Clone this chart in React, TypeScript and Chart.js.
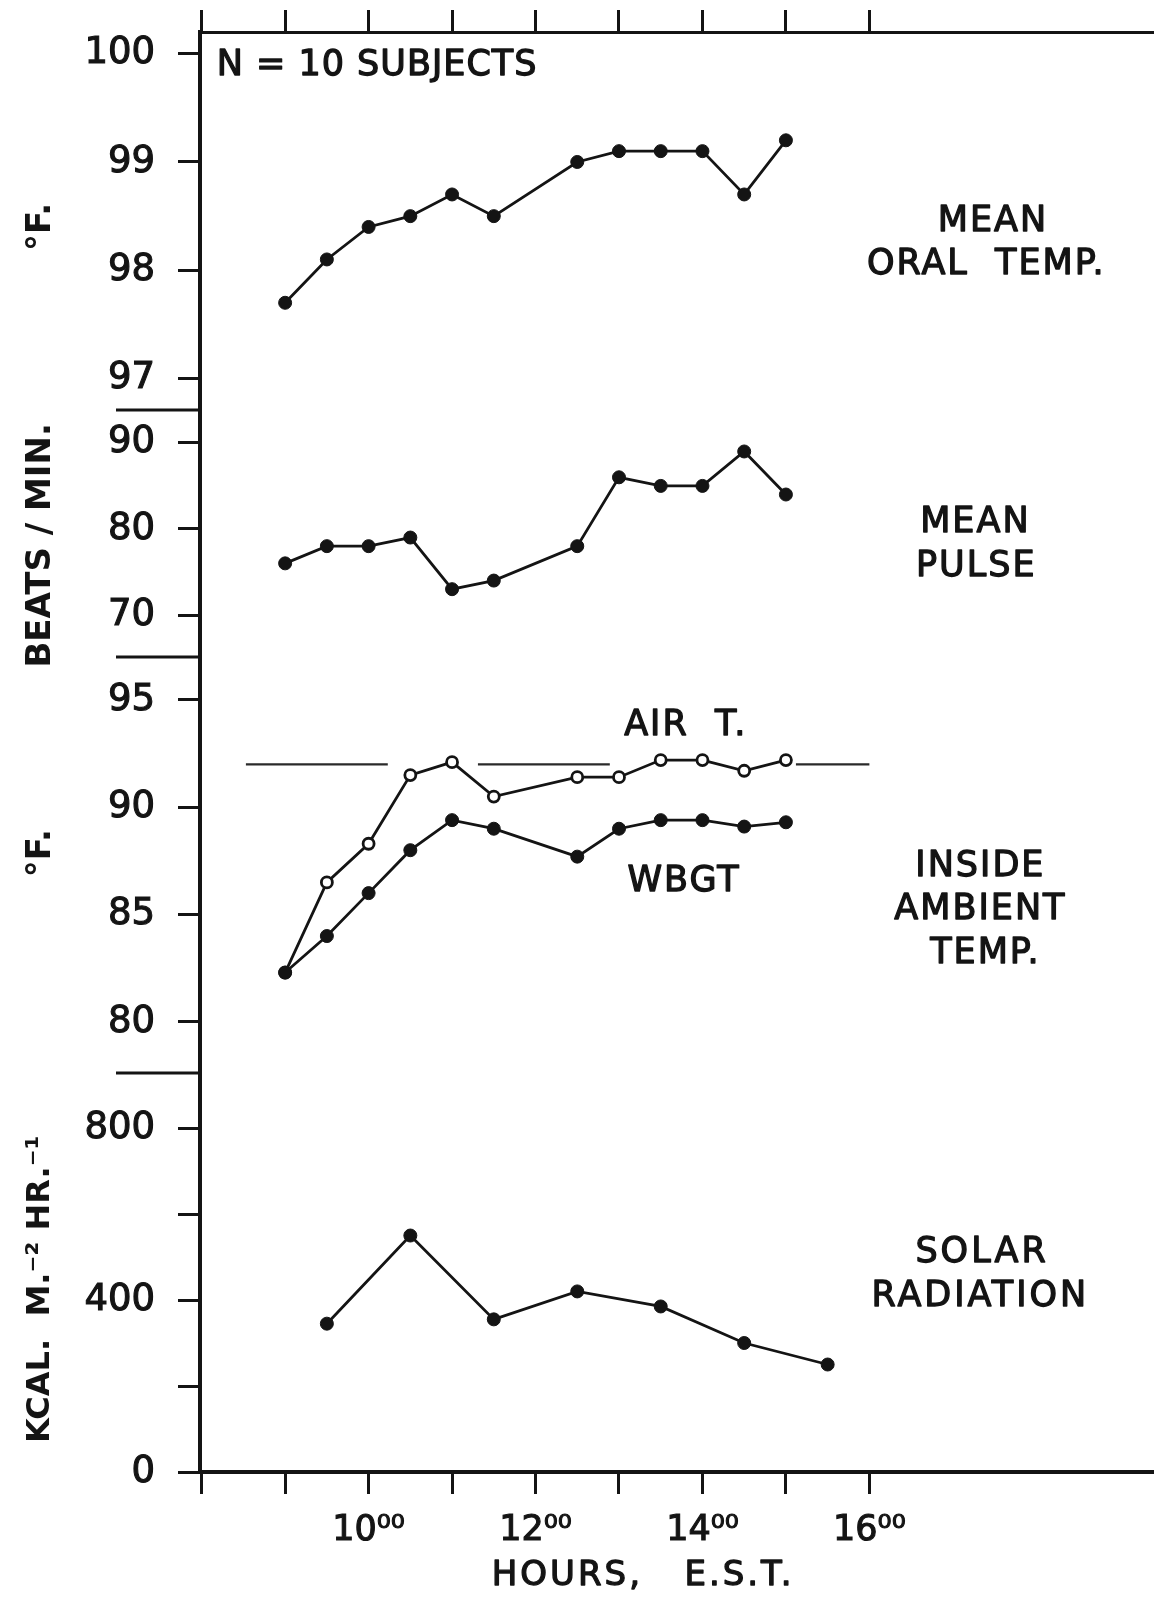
import { useEffect, useRef } from 'react';
import { Chart, registerables } from 'chart.js';

Chart.register(...registerables);

// Sampling times (decimal hours, E.S.T.)
const sampleHours = [9, 9.5, 10, 10.5, 11, 11.5, 12.5, 13, 13.5, 14, 14.5, 15];
const oralTemp = [97.7, 98.1, 98.4, 98.5, 98.7, 98.5, 99.0, 99.1, 99.1, 99.1, 98.7, 99.2];
const pulseRate = [76, 78, 78, 79, 73, 74, 78, 86, 85, 85, 89, 84];
const airTemp = [82.3, 86.5, 88.3, 91.5, 92.1, 90.5, 91.4, 91.4, 92.2, 92.2, 91.7, 92.2];
const wbgtTemp = [82.3, 84.0, 86.0, 88.0, 89.4, 89.0, 87.7, 89.0, 89.4, 89.4, 89.1, 89.3];

const solarHours = [9.5, 10.5, 11.5, 12.5, 13.5, 14.5, 15.5];
const solarRadiation = [345, 550, 355, 420, 385, 300, 250];

// Broken horizontal line at 92 °F: [start hour, end hour] of each piece
const refLineSegments = [
  [8.53, 10.23],
  [11.31, 12.89],
  [15.12, 16.0],
];
const refLineTemp = 92;

// Axis ranges and ticks
const hourRange = [7.98, 19.41];
const hourTicks = [8, 9, 10, 11, 12, 13, 14, 15, 16];
const labelledHours = [10, 12, 14, 16];
const oralRange = [96.71, 100.2];
const oralTicks = [97, 98, 99, 100];
const pulseRange = [65.12, 93.82];
const pulseTicks = [70, 80, 90];
const ambientRange = [77.62, 97.0];
const ambientTicks = [80, 85, 90, 95];
const solarRange = [0, 928];
const solarTicks = [0, 200, 400, 600, 800];
const solarLabelled = [0, 400, 800];

const FONT = "'DejaVu Sans', sans-serif";
const INK = '#141414';

type Note = { text: string; x: number; y: number; axis: string; align: CanvasTextAlign; spacing?: number };

// Panel captions, placed in data coordinates of their own panel
const panelNotes: Note[] = [
  { text: 'N = 10 SUBJECTS', x: 8.18, y: 99.89, axis: 'yOral', align: 'left', spacing: 1 },
  { text: 'MEAN', x: 17.48, y: 98.45, axis: 'yOral', align: 'center' },
  { text: 'ORAL  TEMP.', x: 17.4, y: 98.05, axis: 'yOral', align: 'center' },
  { text: 'MEAN', x: 17.27, y: 80.7, axis: 'yPulse', align: 'center' },
  { text: 'PULSE', x: 17.28, y: 75.58, axis: 'yPulse', align: 'center' },
  { text: 'AIR  T.', x: 13.8, y: 93.79, axis: 'yAmb', align: 'center' },
  { text: 'WBGT', x: 13.78, y: 86.52, axis: 'yAmb', align: 'center' },
  { text: 'INSIDE', x: 17.33, y: 87.22, axis: 'yAmb', align: 'center' },
  { text: 'AMBIENT', x: 17.33, y: 85.22, axis: 'yAmb', align: 'center' },
  { text: 'TEMP.', x: 17.39, y: 83.17, axis: 'yAmb', align: 'center' },
  { text: 'SOLAR', x: 17.35, y: 509, axis: 'ySolar', align: 'center', spacing: 3 },
  { text: 'RADIATION', x: 17.33, y: 407, axis: 'ySolar', align: 'center', spacing: 3 },
];

const xTitle = { text: 'HOURS,   E.S.T.', x: 13.29 };

const toPoints = (xs: number[], ys: number[]) => xs.map((x, i) => ({ x, y: ys[i] }));

const refLinePoints = refLineSegments.flatMap(([a, b]) => [
  { x: a, y: refLineTemp },
  { x: b, y: refLineTemp },
  { x: b, y: null as number | null },
]);

const drawText = (ctx: CanvasRenderingContext2D, text: string, x: number, y: number) => {
  ctx.fillText(text, x, y);
  ctx.strokeText(text, x, y);
};

const panelDecor = {
  id: 'panelDecor',
  afterDraw(chart: any) {
    const { ctx, scales } = chart;
    const xs = scales.x;
    ctx.save();
    // separators between the stacked panels
    ctx.strokeStyle = INK;
    ctx.lineWidth = 3;
    for (const id of ['yPulse', 'yAmb', 'ySolar']) {
      const s = scales[id];
      ctx.beginPath();
      ctx.moveTo(116, s.top);
      ctx.lineTo(s.right, s.top);
      ctx.stroke();
    }
    ctx.fillStyle = INK;
    ctx.lineWidth = 1.3;
    ctx.lineJoin = 'round';
    ctx.textBaseline = 'middle';
    ctx.font = `35px ${FONT}`;
    for (const n of panelNotes) {
      ctx.textAlign = n.align;
      ctx.letterSpacing = `${n.spacing ?? 2}px`;
      drawText(ctx, n.text, xs.getPixelForValue(n.x), scales[n.axis].getPixelForValue(n.y));
    }
    ctx.textAlign = 'center';
    ctx.letterSpacing = '3px';
    ctx.font = `34px ${FONT}`;
    drawText(ctx, xTitle.text, xs.getPixelForValue(xTitle.x), xs.top + 104);
    ctx.restore();
  },
};

const setTicks = (values: number[]) => (scale: any) => {
  scale.ticks = values.map((v) => ({ value: v }));
};

// fixed box size; no extra room reserved for overhanging tick labels
const fixBox = (size: { width?: number; height?: number }) => (s: any) => {
  if (size.width !== undefined) s.width = size.width;
  if (size.height !== undefined) s.height = size.height;
  s.paddingTop = 0;
  s.paddingBottom = 0;
  s.paddingLeft = 0;
  s.paddingRight = 0;
};

const yScale = (
  range: number[],
  ticks: number[],
  weight: number,
  stackWeight: number,
  title: string,
  titleSize = 34,
  label: (v: number) => string = (v) => String(v)
) => ({
  type: 'linear' as const,
  position: 'left' as const,
  stack: 'panels',
  stackWeight,
  weight,
  min: range[0],
  max: range[1],
  afterBuildTicks: setTicks(ticks),
  afterFit: fixBox({ width: 200 }),
  ticks: {
    callback: (v: any) => label(Number(v)),
    color: INK,
    padding: 23,
    textStrokeColor: INK,
    textStrokeWidth: 1.1,
    font: { family: FONT, size: 37 },
  },
  grid: { drawOnChartArea: false, tickLength: 22, tickWidth: 3, color: INK },
  border: { width: 4, color: INK },
  title: {
    display: true,
    text: title,
    color: INK,
    font: { family: FONT, size: titleSize, weight: 'bold' as const },
    padding: { top: 21, bottom: 0 },
  },
});

const lineStyle = {
  borderColor: INK,
  borderWidth: 2.8,
  pointRadius: 6.5,
  pointBackgroundColor: INK,
  pointBorderColor: INK,
  pointBorderWidth: 1,
  tension: 0,
};

export default function App() {
  const canvasRef = useRef<HTMLCanvasElement>(null);

  useEffect(() => {
    const chart = new Chart(canvasRef.current as HTMLCanvasElement, {
      type: 'line',
      data: {
        datasets: [
          { label: 'Mean oral temp', data: toPoints(sampleHours, oralTemp), yAxisID: 'yOral', ...lineStyle },
          { label: 'Mean pulse', data: toPoints(sampleHours, pulseRate), yAxisID: 'yPulse', ...lineStyle },
          { label: 'WBGT', data: toPoints(sampleHours, wbgtTemp), yAxisID: 'yAmb', ...lineStyle },
          {
            label: 'Air T.',
            data: toPoints(sampleHours, airTemp),
            yAxisID: 'yAmb',
            ...lineStyle,
            pointRadius: 5.5,
            pointBackgroundColor: '#ffffff',
            pointBorderWidth: 2.8,
          },
          {
            label: '92 °F line',
            data: refLinePoints as any,
            yAxisID: 'yAmb',
            borderColor: '#2a2a2a',
            borderWidth: 2.4,
            pointRadius: 0,
            spanGaps: false,
          },
          { label: 'Solar radiation', data: toPoints(solarHours, solarRadiation), yAxisID: 'ySolar', ...lineStyle },
        ],
      },
      options: {
        responsive: false,
        maintainAspectRatio: false,
        devicePixelRatio: 1,
        animation: false,
        layout: { padding: 0, autoPadding: false },
        plugins: { legend: { display: false }, tooltip: { enabled: false } },
        events: [],
        scales: {
          x: {
            type: 'linear',
            position: 'bottom',
            min: hourRange[0],
            max: hourRange[1],
            afterBuildTicks: setTicks(hourTicks),
            afterFit: fixBox({ height: 126 }),
            ticks: {
              autoSkip: false,
              maxRotation: 0,
              color: INK,
              padding: 16,
              textStrokeColor: INK,
              textStrokeWidth: 1.1,
              font: { family: FONT, size: 35 },
              callback: (v: any) => (labelledHours.includes(Number(v)) ? `${v}⁰⁰` : ''),
            },
            grid: { drawOnChartArea: false, tickLength: 22, tickWidth: 3, color: INK },
            border: { width: 4, color: INK },
          },
          xTop: {
            type: 'linear',
            position: 'top',
            min: hourRange[0],
            max: hourRange[1],
            afterBuildTicks: setTicks(hourTicks),
            afterFit: fixBox({ height: 32 }),
            ticks: { display: false },
            grid: { drawOnChartArea: false, tickLength: 22, tickWidth: 3, color: INK },
            border: { width: 3, color: INK },
          },
          yOral: yScale(oralRange, oralTicks, 4, 378, '°F. '),
          yPulse: yScale(pulseRange, pulseTicks, 3, 247, 'BEATS / MIN.  '),
          yAmb: yScale(ambientRange, ambientTicks, 2, 416, '  °F.'),
          ySolar: yScale(solarRange, solarTicks, 1, 399, 'KCAL.  M.⁻² HR.⁻¹   ', 32, (v) =>
            solarLabelled.includes(v) ? String(v) : ''
          ),
        } as any,
      },
      plugins: [panelDecor],
    });
    return () => chart.destroy();
  }, []);

  return (
    <div style={{ position: 'absolute', left: 0, top: 0, width: 1154, height: 1598, background: '#ffffff' }}>
      <canvas ref={canvasRef} width={1154} height={1598} style={{ display: 'block' }} />
    </div>
  );
}
